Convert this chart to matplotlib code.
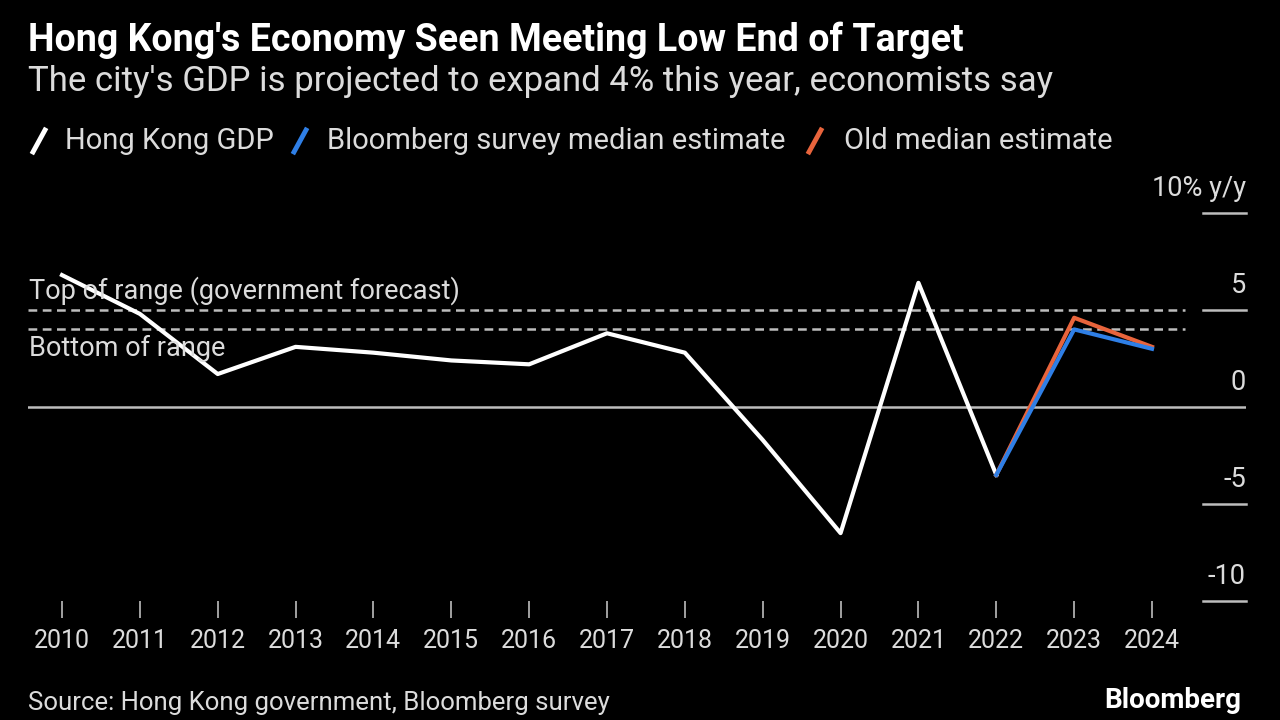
import numpy as np
import matplotlib.pyplot as plt
from matplotlib.lines import Line2D

years = [2010, 2011, 2012, 2013, 2014, 2015, 2016, 2017, 2018, 2019, 2020, 2021, 2022]
hk_gdp = [6.8, 4.8, 1.7, 3.1, 2.8, 2.4, 2.2, 3.8, 2.8, -1.7, -6.5, 6.4, -3.5]

est_years = [2022, 2023, 2024]
survey_est = [-3.5, 4.0, 3.0]
old_est = [-3.5, 4.6, 3.1]

range_top = 5
range_bottom = 4

ytick_vals = [10, 5, 0, -5, -10]
ytick_labels = ['10% y/y', '5', '0', '-5', '-10']

W, H = 1280, 720
bg = '#000000'
txt = '#dcdcdc'
grey = '#bdbdbd'
blue = '#2f7fe6'
orange = '#e8643c'

plt.rcParams['font.family'] = ['Roboto', 'DejaVu Sans']

fig = plt.figure(figsize=(W / 100, H / 100), dpi=100, facecolor=bg)

# axes box in pixels: x 28..1246, y(-10)=601, y(10)=213
left, right, top, bottom = 28, 1246, 213, 601
ax = fig.add_axes([left / W, 1 - bottom / H, (right - left) / W, (bottom - top) / H])
ax.set_facecolor(bg)
ax.set_ylim(-10, 10)
x_lo = 2010 - 34 / 77.86
ax.set_xlim(x_lo, 2024 + 94 / 77.86)
for s in ax.spines.values():
    s.set_visible(False)

# reference lines
ax.axhline(0, color=grey, lw=1.8, zorder=1)
dash_end = (1185 - left) / (right - left)
ax.axhline(range_top, xmax=dash_end, color=grey, lw=1.8, ls=(0, (3.5, 2.2)), zorder=1)
ax.axhline(range_bottom, xmax=dash_end, color=grey, lw=1.8, ls=(0, (3.5, 2.2)), zorder=1)

# right-side tick marks and labels
tick_x0 = (1203 - left) / (right - left)
for v, lab in zip(ytick_vals, ytick_labels):
    if v != 0:
        ax.plot([tick_x0, 1.0], [v, v], color=grey, lw=1.8,
                transform=ax.get_yaxis_transform(), clip_on=False)
    ax.text(1.0, v + 0.55, lab, color=txt, fontsize=19.5, ha='right', va='bottom',
            transform=ax.get_yaxis_transform())
ax.set_yticks([])

# series
ax.plot(years, hk_gdp, color='white', lw=3, zorder=3)
ax.plot(est_years, old_est, color=orange, lw=3, zorder=3)
ax.plot(est_years, survey_est, color=blue, lw=3, zorder=4)

ax.text(x_lo + 0.01, range_top + 1.0, 'Top of range (government forecast)',
        color=txt, fontsize=19.5, va='center', ha='left')
ax.text(x_lo + 0.01, range_bottom - 1.0, 'Bottom of range',
        color=txt, fontsize=19.5, va='center', ha='left')

all_years = years + est_years[1:]
ax.set_xticks(all_years)
ax.set_xticklabels([str(y) for y in all_years])
ax.tick_params(axis='x', colors=grey, labelcolor=txt, labelsize=18, length=12,
               width=1.2, pad=8, direction='out')

# titles
fig.text(28 / W, 1 - 40 / H, "Hong Kong's Economy Seen Meeting Low End of Target",
         color='white', fontsize=27, fontweight='bold', va='center', ha='left')
fig.text(28 / W, 1 - 82 / H, "The city's GDP is projected to expand 4% this year, economists say",
         color=txt, fontsize=25, va='center', ha='left')

# legend
leg_y = 1 - 141 / H
for x0, col, label, tx in [(31, 'white', 'Hong Kong GDP', 65),
                           (292, blue, 'Bloomberg survey median estimate', 327),
                           (807, orange, 'Old median estimate', 844)]:
    fig.add_artist(Line2D([(x0 + 2) / W, (x0 + 14) / W], [1 - 152 / H, 1 - 130 / H],
                          color=col, lw=3.5, transform=fig.transFigure))
    fig.text(tx / W, leg_y, label, color=txt, fontsize=21, va='center', ha='left')

fig.text(28 / W, 1 - 703 / H, 'Source: Hong Kong government, Bloomberg survey',
         color=txt, fontsize=18.5, va='center', ha='left')
fig.text(1241 / W, 1 - 700 / H, 'Bloomberg', color='white', fontsize=20,
         fontweight='bold', va='center', ha='right')

fig.savefig('out.png', dpi=100, facecolor=bg)
